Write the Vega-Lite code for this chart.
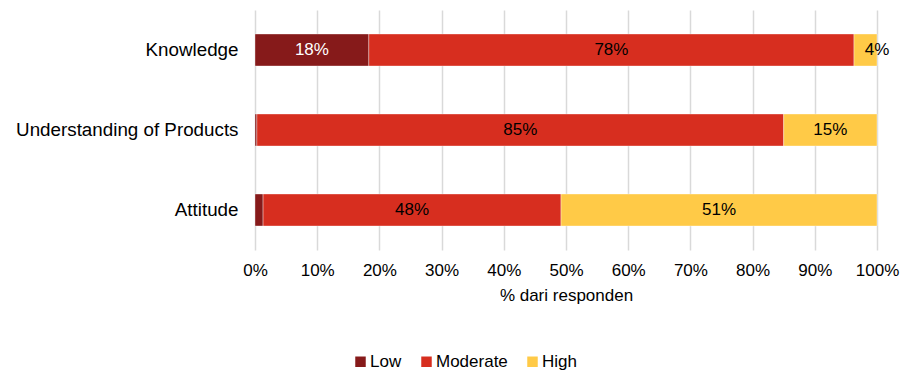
{
  "$schema": "https://vega.github.io/schema/vega-lite/v6.json",
  "width": 622,
  "height": 240,
  "autosize": {"type": "none"},
  "padding": {"left": 255, "top": 10, "right": 24, "bottom": 120},
  "background": "white",
  "config": {
    "font": "Liberation Sans",
    "view": {"stroke": null},
    "axis": {"labelFont": "Liberation Sans", "titleFont": "Liberation Sans"},
    "axisX": {
      "labelOverlap": false,
      "labelFlush": false,
      "grid": true,
      "gridColor": "#d9d9d9",
      "gridWidth": 1.5,
      "domain": false,
      "ticks": false,
      "labelFontSize": 17,
      "labelColor": "#000000",
      "labelPadding": 12,
      "titleFontSize": 17,
      "titleFontWeight": "normal",
      "titleColor": "#000000",
      "titlePadding": 9
    },
    "legend": {"labelFont": "Liberation Sans"}
  },
  "data": {
    "values": [
      {"item": "Knowledge", "level": "Low", "order": 1, "pct": 0.183},
      {"item": "Knowledge", "level": "Moderate", "order": 2, "pct": 0.780},
      {"item": "Knowledge", "level": "High", "order": 3, "pct": 0.037},
      {"item": "Understanding of Products", "level": "Low", "order": 1, "pct": 0.003},
      {"item": "Understanding of Products", "level": "Moderate", "order": 2, "pct": 0.847},
      {"item": "Understanding of Products", "level": "High", "order": 3, "pct": 0.150},
      {"item": "Attitude", "level": "Low", "order": 1, "pct": 0.013},
      {"item": "Attitude", "level": "Moderate", "order": 2, "pct": 0.479},
      {"item": "Attitude", "level": "High", "order": 3, "pct": 0.508}
    ]
  },
  "encoding": {
    "y": {
      "field": "item",
      "type": "nominal",
      "sort": ["Knowledge", "Understanding of Products", "Attitude"],
      "scale": {"paddingInner": 0.6, "paddingOuter": 0.3},
      "axis": {
        "title": null,
        "domain": false,
        "ticks": false,
        "labelFontSize": 18.8,
        "labelLimit": 300,
        "labelColor": "#000000",
        "labelPadding": 17
      }
    }
  },
  "layer": [
    {
      "mark": {"type": "bar", "stroke": "#ffffff", "strokeWidth": 0.6, "strokeOpacity": 0.6},
      "encoding": {
        "x": {
          "field": "pct",
          "type": "quantitative",
          "stack": "zero",
          "scale": {"domain": [0, 1], "nice": false},
          "axis": {
            "title": "% dari responden",
            "format": ".0%",
            "values": [0, 0.1, 0.2, 0.3, 0.4, 0.5, 0.6, 0.7, 0.8, 0.9, 1]
          }
        },
        "color": {
          "field": "level",
          "type": "nominal",
          "scale": {
            "domain": ["Low", "Moderate", "High"],
            "range": ["#861a1a", "#d72e1f", "#ffca47"]
          },
          "legend": {
            "title": null,
            "orient": "none",
            "direction": "horizontal",
            "legendX": 97,
            "legendY": 343,
            "symbolType": "square",
            "symbolSize": 110,
            "symbolStrokeWidth": 0,
            "labelFontSize": 17,
            "labelColor": "#000000",
            "labelOffset": 1,
            "columnPadding": 16
          }
        },
        "order": {"field": "order", "type": "quantitative"}
      }
    },
    {
      "transform": [
        {"stack": "pct", "groupby": ["item"], "sort": [{"field": "order"}], "as": ["x0", "x1"]},
        {"filter": "datum.pct >= 0.02"},
        {"calculate": "datum.pct < 0.05 ? datum.x1 : (datum.x0 + datum.x1) / 2", "as": "labelX"}
      ],
      "mark": {"type": "text", "fontSize": 17, "baseline": "middle", "align": "center"},
      "encoding": {
        "x": {
          "field": "labelX",
          "type": "quantitative",
          "axis": {
            "title": "% dari responden",
            "format": ".0%",
            "values": [0, 0.1, 0.2, 0.3, 0.4, 0.5, 0.6, 0.7, 0.8, 0.9, 1]
          }
        },
        "text": {"field": "pct", "type": "quantitative", "format": ".0%"},
        "color": {
          "condition": {"test": "datum.level === 'Low'", "value": "#ffffff"},
          "value": "#000000"
        }
      }
    }
  ]
}
